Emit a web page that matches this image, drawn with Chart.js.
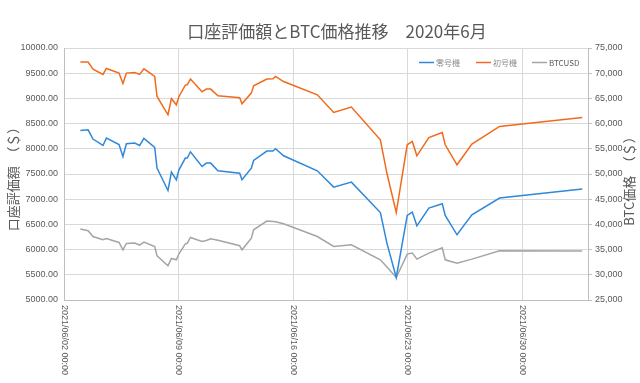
<!DOCTYPE html>
<html>
<head>
<meta charset="utf-8">
<script src="https://cdn.jsdelivr.net/npm/chart.js@4.4.0/dist/chart.umd.min.js"></script>
<style>
    body { margin: 0; background: #fff; }
</style>
</head>
<body>
<canvas id="chart" width="640" height="383"></canvas>
<script>
// Days counted from 2021/06/02 00:00
const DAYS = [1.00, 1.47, 1.77, 2.38, 2.59, 3.36, 3.60, 3.81, 4.32, 4.62,
    4.88, 5.54, 5.68, 6.35, 6.56, 6.86, 7.02, 7.41, 7.53, 7.72,
    8.43, 8.69, 8.96, 9.40, 10.73, 10.87, 11.44, 11.58, 12.39, 12.76,
    12.92, 13.41, 15.47, 16.47, 17.55, 19.32, 19.72, 20.29, 20.96, 21.27,
    21.55, 22.28, 23.10, 23.28, 24.00, 24.91, 26.60, 31.65];

// 零号機 (left axis)
const UNIT_ZERO = [8363, 8377, 8193, 8066, 8212, 8085, 7847, 8099, 8113, 8066,
    8205, 8026, 7617, 7173, 7538, 7385, 7583, 7816, 7816, 7941,
    7649, 7716, 7716, 7564, 7516, 7385, 7617, 7768, 7954, 7954,
    8000, 7861, 7564, 7240, 7339, 6736, 6129, 5447, 6677, 6744,
    6472, 6824, 6909, 6677, 6294, 6691, 7022, 7201];

// 初号機 (left axis)
const UNIT_ONE = [9720, 9720, 9581, 9476, 9594, 9502, 9296, 9502, 9514, 9476,
    9587, 9435, 9038, 8675, 8998, 8873, 9038, 9264, 9270, 9383,
    9131, 9185, 9185, 9052, 9012, 8893, 9105, 9250, 9383, 9390,
    9435, 9335, 9071, 8720, 8827, 8179, 7514, 6736, 8080, 8145,
    7861, 8224, 8324, 8080, 7683, 8093, 8443, 8621];

// BTCUSD (right axis)
const BTC_USD = [39070, 38730, 37600, 36950, 37200, 36410, 34960, 36210, 36290, 35900,
    36490, 35620, 33770, 31790, 33240, 32980, 34170, 36150, 36250, 37400,
    36610, 36800, 37150, 36850, 35760, 34960, 37280, 38930, 40660, 40600,
    40520, 40120, 37600, 35620, 35960, 32980, 31530, 29470, 34110, 34310,
    33110, 34310, 35360, 32980, 32320, 33110, 34760, 34700];

const SERIES_NAMES = ['零号機', '初号機', 'BTCUSD'];
const TICK_DAYS = [0, 7, 14, 21, 28];
const TICK_LABELS = ['2021/06/02 00:00', '2021/06/09 00:00', '2021/06/16 00:00',
    '2021/06/23 00:00', '2021/06/30 00:00'];

const COLORS = {
    blue: '#2f88d8',
    orange: '#f26a1b',
    gray: '#a5a5a5',
    text: '#595959',
    grid: '#d9d9d9',
    axis: '#bfbfbf'
};

const TICK_FONT = '"Liberation Sans Narrow", "Liberation Sans", sans-serif';
const JP_FONT = '"Noto Sans CJK JP", sans-serif';

function toPoints(values) {
    return values.map((v, i) => ({ x: DAYS[i], y: v }));
}

// Title, axis titles, rotated date labels and legend drawn by hand
const decorations = {
    id: 'decorations',
    afterDraw(chart) {
        const ctx = chart.ctx;
        const area = chart.chartArea;
        ctx.save();
        ctx.fillStyle = COLORS.text;

        // Chart title
        ctx.font = '17px ' + JP_FONT;
        ctx.textAlign = 'center';
        ctx.textBaseline = 'middle';
        ctx.fillText('口座評価額とBTC価格推移　2020年6月', 337, 32);

        // Axis titles
        ctx.font = '13px ' + JP_FONT;
        ctx.save();
        ctx.translate(13, 176);
        ctx.rotate(-Math.PI / 2);
        ctx.fillText('口座評価額　（＄）', 0, 0);
        ctx.restore();
        ctx.save();
        ctx.translate(629, 178);
        ctx.rotate(-Math.PI / 2);
        ctx.fillText('BTC価格　（＄）', 0, 0);
        ctx.restore();

        // Date labels, reading top to bottom
        const xScale = chart.scales.x;
        ctx.font = '9px ' + TICK_FONT;
        ctx.textAlign = 'left';
        TICK_DAYS.forEach((d, i) => {
            const x = xScale.getPixelForValue(d);
            ctx.save();
            ctx.translate(x, area.bottom + 5);
            ctx.rotate(Math.PI / 2);
            ctx.fillText(TICK_LABELS[i], 0, 0);
            ctx.restore();
        });

        // Legend
        const legendColors = [COLORS.blue, COLORS.orange, COLORS.gray];
        const legendX = [419, 476, 532];
        ctx.font = '8px ' + JP_FONT;
        ctx.textBaseline = 'middle';
        ctx.lineWidth = 1.5;
        SERIES_NAMES.forEach((name, i) => {
            ctx.strokeStyle = legendColors[i];
            ctx.beginPath();
            ctx.moveTo(legendX[i], 62.5);
            ctx.lineTo(legendX[i] + 15, 62.5);
            ctx.stroke();
            ctx.fillStyle = i === 2 ? '#595959' : '#8c8c8c';
            ctx.fillText(name, legendX[i] + 17, 62.5);
        });
        ctx.restore();
    }
};

function makeLine(label, values, color, axis) {
    return {
        label: label,
        data: toPoints(values),
        borderColor: color,
        backgroundColor: color,
        borderWidth: 1.5,
        pointRadius: 0,
        tension: 0,
        yAxisID: axis
    };
}

new Chart(document.getElementById('chart'), {
    type: 'line',
    data: {
        datasets: [
            makeLine(SERIES_NAMES[0], UNIT_ZERO, COLORS.blue, 'y'),
            makeLine(SERIES_NAMES[1], UNIT_ONE, COLORS.orange, 'y'),
            makeLine(SERIES_NAMES[2], BTC_USD, COLORS.gray, 'y2')
        ]
    },
    options: {
        responsive: false,
        devicePixelRatio: 1,
        animation: false,
        layout: { padding: { top: 48, left: 0, right: 0, bottom: 0 } },
        plugins: {
            legend: { display: false },
            tooltip: { enabled: false }
        },
        scales: {
            x: {
                type: 'linear',
                min: 0,
                max: 32,
                afterBuildTicks: s => { s.ticks = TICK_DAYS.map(v => ({ value: v })); },
                afterFit: s => { s.height = 83; },
                ticks: { display: false },
                grid: { color: COLORS.grid, drawTicks: false },
                border: { color: COLORS.axis }
            },
            y: {
                position: 'left',
                min: 5000,
                max: 10000,
                afterFit: s => { s.width = 64; },
                ticks: {
                    stepSize: 500,
                    color: COLORS.text,
                    padding: 6,
                    font: { family: TICK_FONT, size: 9 },
                    callback: v => v.toFixed(2)
                },
                grid: { color: COLORS.grid, drawTicks: false },
                border: { color: COLORS.axis }
            },
            y2: {
                position: 'right',
                min: 25000,
                max: 75000,
                afterFit: s => { s.width = 52; },
                ticks: {
                    stepSize: 5000,
                    color: COLORS.text,
                    padding: 3,
                    font: { family: TICK_FONT, size: 9 }
                },
                grid: { drawOnChartArea: false, color: COLORS.axis, tickLength: 4 },
                border: { color: COLORS.axis }
            }
        }
    },
    plugins: [decorations]
});
</script>
</body>
</html>
